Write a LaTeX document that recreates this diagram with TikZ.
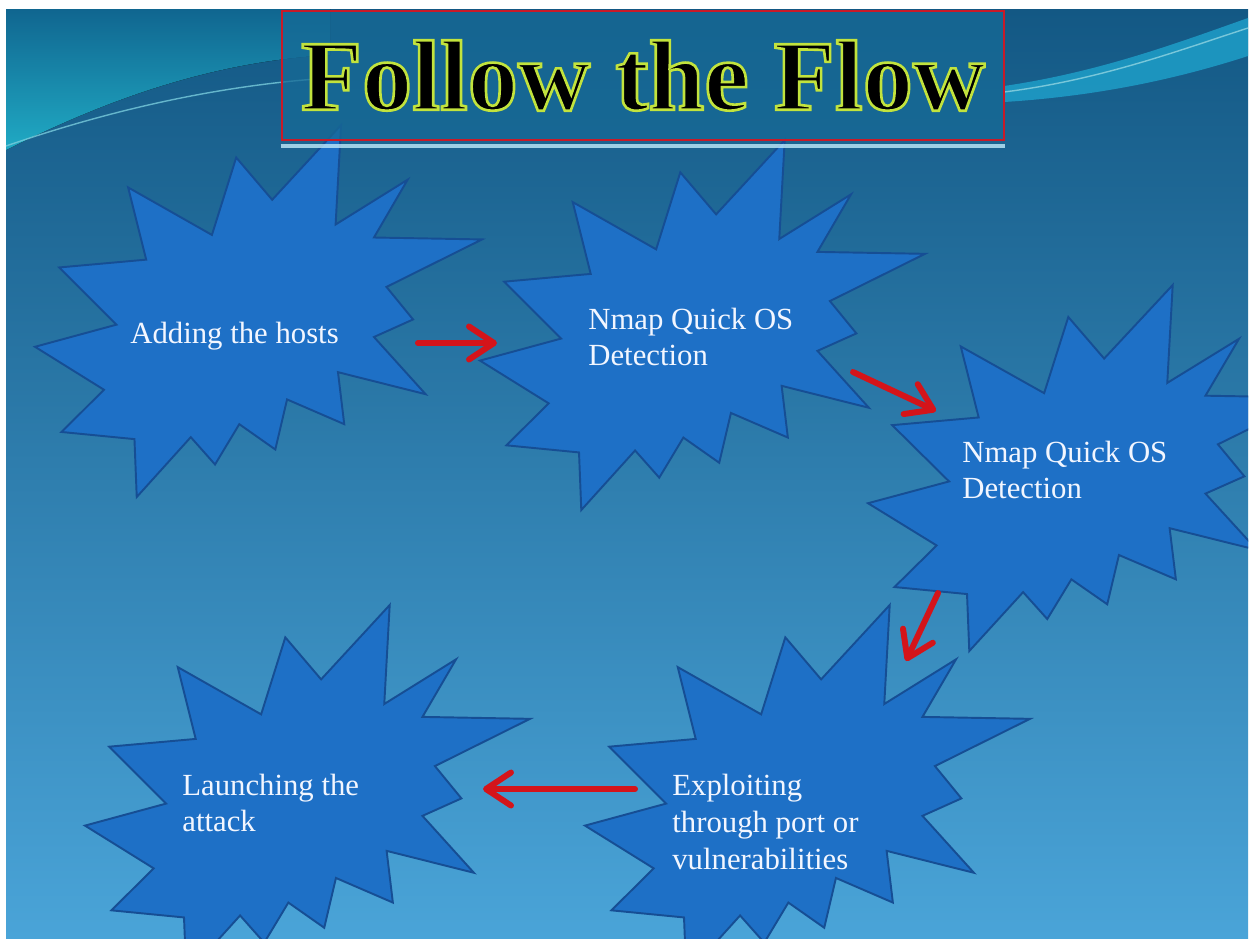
\documentclass[tikz,border=0pt]{standalone}
\usepackage{fontspec}
\setmainfont{Liberation Serif}
\usetikzlibrary{arrows.meta}

\definecolor{bgtop}{RGB}{19,88,132}
\definecolor{bgmid}{RGB}{40,122,174}
\definecolor{bgbot}{RGB}{74,164,216}
\definecolor{tealtop}{RGB}{16,102,144}
\definecolor{swcyan}{RGB}{32,170,196}
\definecolor{bandcyan}{RGB}{30,158,200}
\definecolor{starblue}{RGB}{30,112,198}
\definecolor{starline}{RGB}{22,78,148}
\definecolor{flowred}{RGB}{212,20,26}
\definecolor{boxblue}{RGB}{22,106,150}
\definecolor{boxred}{RGB}{200,26,40}
\definecolor{textwhite}{RGB}{242,246,255}

\tikzset{
  starbody/.style={fill=starblue, draw=starline, line width=1.1pt, line join=miter},
  burst/.pic={
    \draw[starbody] (530.6,201.0) -- (684.7,0) -- (672.5,267.5) -- (833.7,146.9)
      -- (758.3,302.4) -- (1000,307.6) -- (786.3,435.3) -- (845.8,522.7)
      -- (758.3,569.9) -- (873.9,723.7) -- (677.8,664.4) -- (691.8,804.2)
      -- (563.9,737.7) -- (537.6,872.3) -- (457.0,804.2) -- (402.8,912.6)
      -- (348.5,839.1) -- (227.6,1000) -- (222.5,844.4) -- (59.5,825.2)
      -- (154.2,711.6) -- (0,596.2) -- (182.2,536.7) -- (54.3,382.9)
      -- (248.7,361.9) -- (208.4,167.8) -- (395.8,295.5) -- (450.1,87.4) -- cycle;
  },
  startext/.style={anchor=west, inner sep=0pt, align=left, text=textwhite,
    font=\fontsize{17.5}{21}\selectfont},
  titlebox/.style={draw=boxred, line width=1.6pt, fill=boxblue, fill opacity=0.75,
    text opacity=1, minimum width=14.44cm, minimum height=2.58cm, inner sep=0pt,
    font=\fontsize{57}{60}\selectfont\bfseries},
  flow/.style={draw=flowred, line width=3.4pt, line cap=round,
    -{Straight Barb[length=0.5cm, width=0.66cm, round]}},
}

\begin{document}
\begin{tikzpicture}[x=0.02cm, y=-0.02cm]

    \useasboundingbox[fill=white] (0,0) rectangle (1250,938);

    % Background
    \fill[top color=bgtop, middle color=bgmid, bottom color=bgbot] (6,9) rectangle (1248,938);

    % Swooshes at the top
    \fill[top color=tealtop, bottom color=swcyan]
        (6,9) -- (6,150) .. controls (90,108) and (200,62) .. (330,55) -- (330,9) -- cycle;
    \draw[swcyan!60!white, line width=0.8pt, opacity=0.8]
        (6,146) .. controls (110,110) and (220,85) .. (330,78);
    \fill[bandcyan, opacity=0.85]
        (1004,86) .. controls (1100,72) and (1180,42) .. (1248,18)
        -- (1248,56) .. controls (1180,78) and (1100,96) .. (1004,102) -- cycle;
    \draw[swcyan!50!white, line width=0.8pt, opacity=0.8]
        (1004,92) .. controls (1100,80) and (1180,50) .. (1248,28);

    % Stars
    \begin{scope}
        \clip (6,9) rectangle (1248,938);
        \pic[xscale=0.447, yscale=0.372] at (35,125) {burst};
        \pic[xscale=0.445, yscale=0.370] at (480,140) {burst};
        \pic[xscale=0.445, yscale=0.366] at (868,285) {burst};
        \pic[xscale=0.445, yscale=0.370] at (585,605) {burst};
        \pic[xscale=0.445, yscale=0.370] at (85,605) {burst};
    \end{scope}

    % Title
    \node[titlebox] (title) at (643,75.5)
        {\special{pdf:code 2 Tr 1.5 w 0.76 0.89 0.24 RG}Follow the Flow\special{pdf:code 0 Tr}};
    \draw[white!75!cyan, line width=2pt, opacity=0.8]
        ([yshift=-2.6pt]title.south west) -- ([yshift=-2.6pt]title.south east);

    % Step texts
    \node[startext] (hosts)   at (130,336) {Adding the hosts};
    \node[startext] (nmapa)   at (588,337) {Nmap Quick OS\\Detection};
    \node[startext] (nmapb)   at (962,470) {Nmap Quick OS\\Detection};
    \node[startext] (exploit) at (672,822) {Exploiting\\through port or\\vulnerabilities};
    \node[startext] (launch)  at (182,803) {Launching the\\attack};

    % Arrow ends
    \coordinate (a1s) at (418,343);
    \coordinate (a1e) at (497,343);
    \coordinate (a2s) at (853,372);
    \coordinate (a2e) at (936,411);
    \coordinate (a3s) at (938,593);
    \coordinate (a3e) at (906,661);
    \coordinate (a4s) at (635,789);
    \coordinate (a4e) at (483,789);

    % Arrows
    \draw[flow] (a1s) -- (a1e);
    \draw[flow] (a2s) -- (a2e);
    \draw[flow] (a3s) -- (a3e);
    \draw[flow] (a4s) -- (a4e);
\end{tikzpicture}
\end{document}
